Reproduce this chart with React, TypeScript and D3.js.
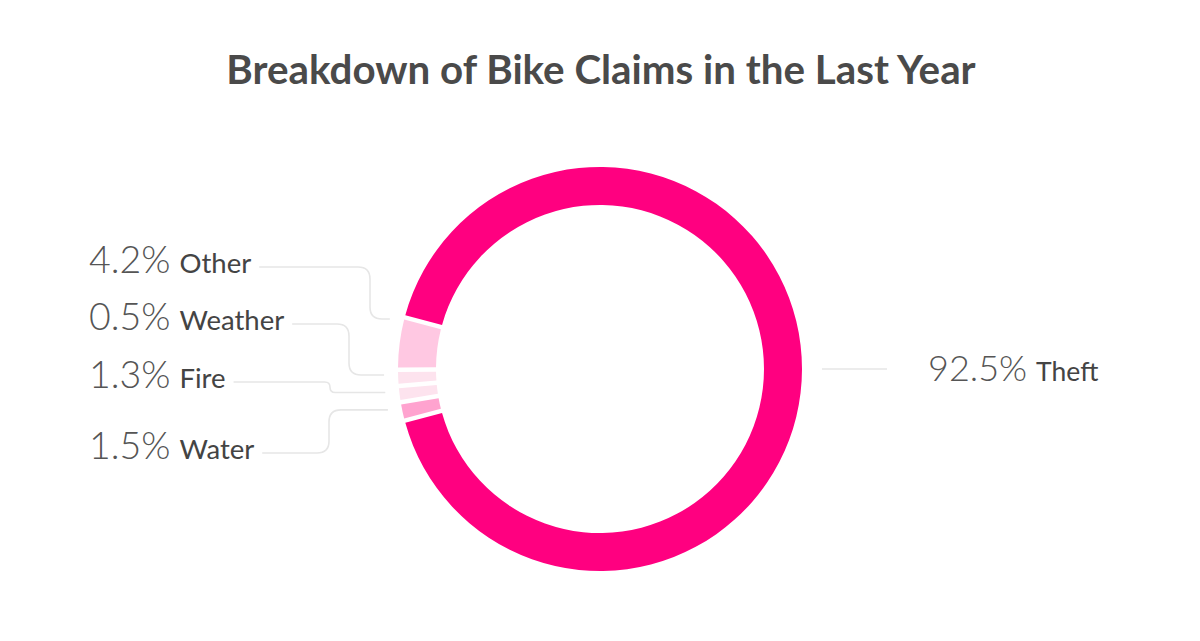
import React, { useEffect, useRef } from "react";
import * as d3 from "d3";

const categories = ["Theft", "Other", "Weather", "Fire", "Water"];
const shares = [92.5, 4.2, 0.5, 1.3, 1.5];
const sliceColors = ["#ff0080", "#ffc8e2", "#fde3ee", "#fde3ee", "#ffa3cf"];

const titleText = "Breakdown of Bike Claims in the Last Year";

// layout for the left-hand labels (Other, Weather, Fire, Water)
const leftLabelLineY = [267, 324, 382, 453];
const leftLabelElbowX = [370, 349, 330, 329];

const W = 1200;
const H = 641;

export default function App() {
  const ref = useRef<SVGSVGElement | null>(null);

  useEffect(() => {
    const svg = d3.select(ref.current);
    svg.selectAll("*").remove();

    const cx = 600;
    const cy = 369;
    const outerR = 202;
    const innerR = 164;
    const minShare = 1.3;

    svg
      .append("text")
      .attr("x", W / 2 + 1)
      .attr("y", 84)
      .attr("text-anchor", "middle")
      .attr("font-family", "Lato, sans-serif")
      .attr("font-weight", 700)
      .attr("font-size", 40.3)
      .attr("fill", "#4a4a4a")
      .text(titleText);

    const data = categories.map((c, i) => ({ name: c, value: shares[i], color: sliceColors[i] }));

    const shown = data.map((d) => Math.max(d.value, minShare));
    const total = d3.sum(shown);
    const theftAngle = (shown[0] / total) * Math.PI * 2;
    const start = Math.PI / 2 + theftAngle / 2;

    const pie = d3
      .pie<any>()
      .sort(null)
      .value((d: any) => Math.max(d.value, minShare))
      .startAngle(start)
      .endAngle(start - Math.PI * 2);

    const arcs = pie(data);

    const arc = d3
      .arc<any>()
      .innerRadius(innerR)
      .outerRadius(outerR)
      .padAngle(4.5 / outerR)
      .padRadius(outerR);

    const g = svg.append("g").attr("transform", `translate(${cx},${cy})`);
    g.selectAll("path")
      .data(arcs)
      .join("path")
      .attr("d", (d: any) => arc(d) as string)
      .attr("fill", (d: any) => d.data.color);

    const fmt = (v: number) => v.toFixed(1) + "%";
    const lineColor = "#e6e6e6";

    // Theft label on the right
    const t = arcs[0];
    const tMid = (t.startAngle + t.endAngle) / 2;
    const tx0 = cx + 222 * Math.sin(tMid);
    const ty0 = cy - 222 * Math.cos(tMid);
    svg
      .append("line")
      .attr("x1", tx0)
      .attr("y1", ty0)
      .attr("x2", tx0 + 65)
      .attr("y2", ty0)
      .attr("stroke", lineColor)
      .attr("stroke-width", 1.6);
    const tt = svg
      .append("text")
      .attr("x", tx0 + 106)
      .attr("y", ty0 + 12)
      .attr("font-family", "Lato, sans-serif");
    tt.append("tspan")
      .attr("font-weight", 300)
      .attr("font-size", 36)
      .attr("fill", "#555")
      .text(fmt(t.data.value));
    tt.append("tspan")
      .attr("dx", 9)
      .attr("font-weight", 400)
      .attr("font-size", 26.5)
      .attr("fill", "#444")
      .text(t.data.name);

    // Left labels
    arcs.slice(1).forEach((a: any, i: number) => {
      const ly = leftLabelLineY[i];
      const text = svg
        .append("text")
        .attr("x", 89)
        .attr("y", ly + 6)
        .attr("font-family", "Lato, sans-serif");
      text
        .append("tspan")
        .attr("font-weight", 300)
        .attr("font-size", 37.5)
        .attr("fill", "#555")
        .text(fmt(a.data.value));
      text
        .append("tspan")
        .attr("dx", 9)
        .attr("font-weight", 400)
        .attr("font-size", 27.5)
        .attr("fill", "#444")
        .text(a.data.name);

      const bb = (text.node() as SVGTextElement).getBBox();
      const sx = bb.x + bb.width + 8;

      const ang = a.startAngle - 0.025;
      const R = 216;
      const ex = cx + R * Math.sin(ang);
      const ey = cy - R * Math.cos(ang);
      const vx = leftLabelElbowX[i];
      const dy = ey - ly;
      const r = Math.min(12, Math.abs(dy) / 2);
      const s = Math.sign(dy) || 1;
      const p = d3.path();
      p.moveTo(sx, ly);
      p.lineTo(vx - r, ly);
      p.quadraticCurveTo(vx, ly, vx, ly + s * r);
      p.lineTo(vx, ey - s * r);
      p.quadraticCurveTo(vx, ey, vx + r, ey);
      p.lineTo(ex, ey);
      svg
        .append("path")
        .attr("d", p.toString())
        .attr("fill", "none")
        .attr("stroke", lineColor)
        .attr("stroke-width", 1.6);
    });
  }, []);

  return (
    <svg
      ref={ref}
      width={W}
      height={H}
      style={{ display: "block", position: "absolute", left: 0, top: 0, background: "#fff" }}
    />
  );
}
